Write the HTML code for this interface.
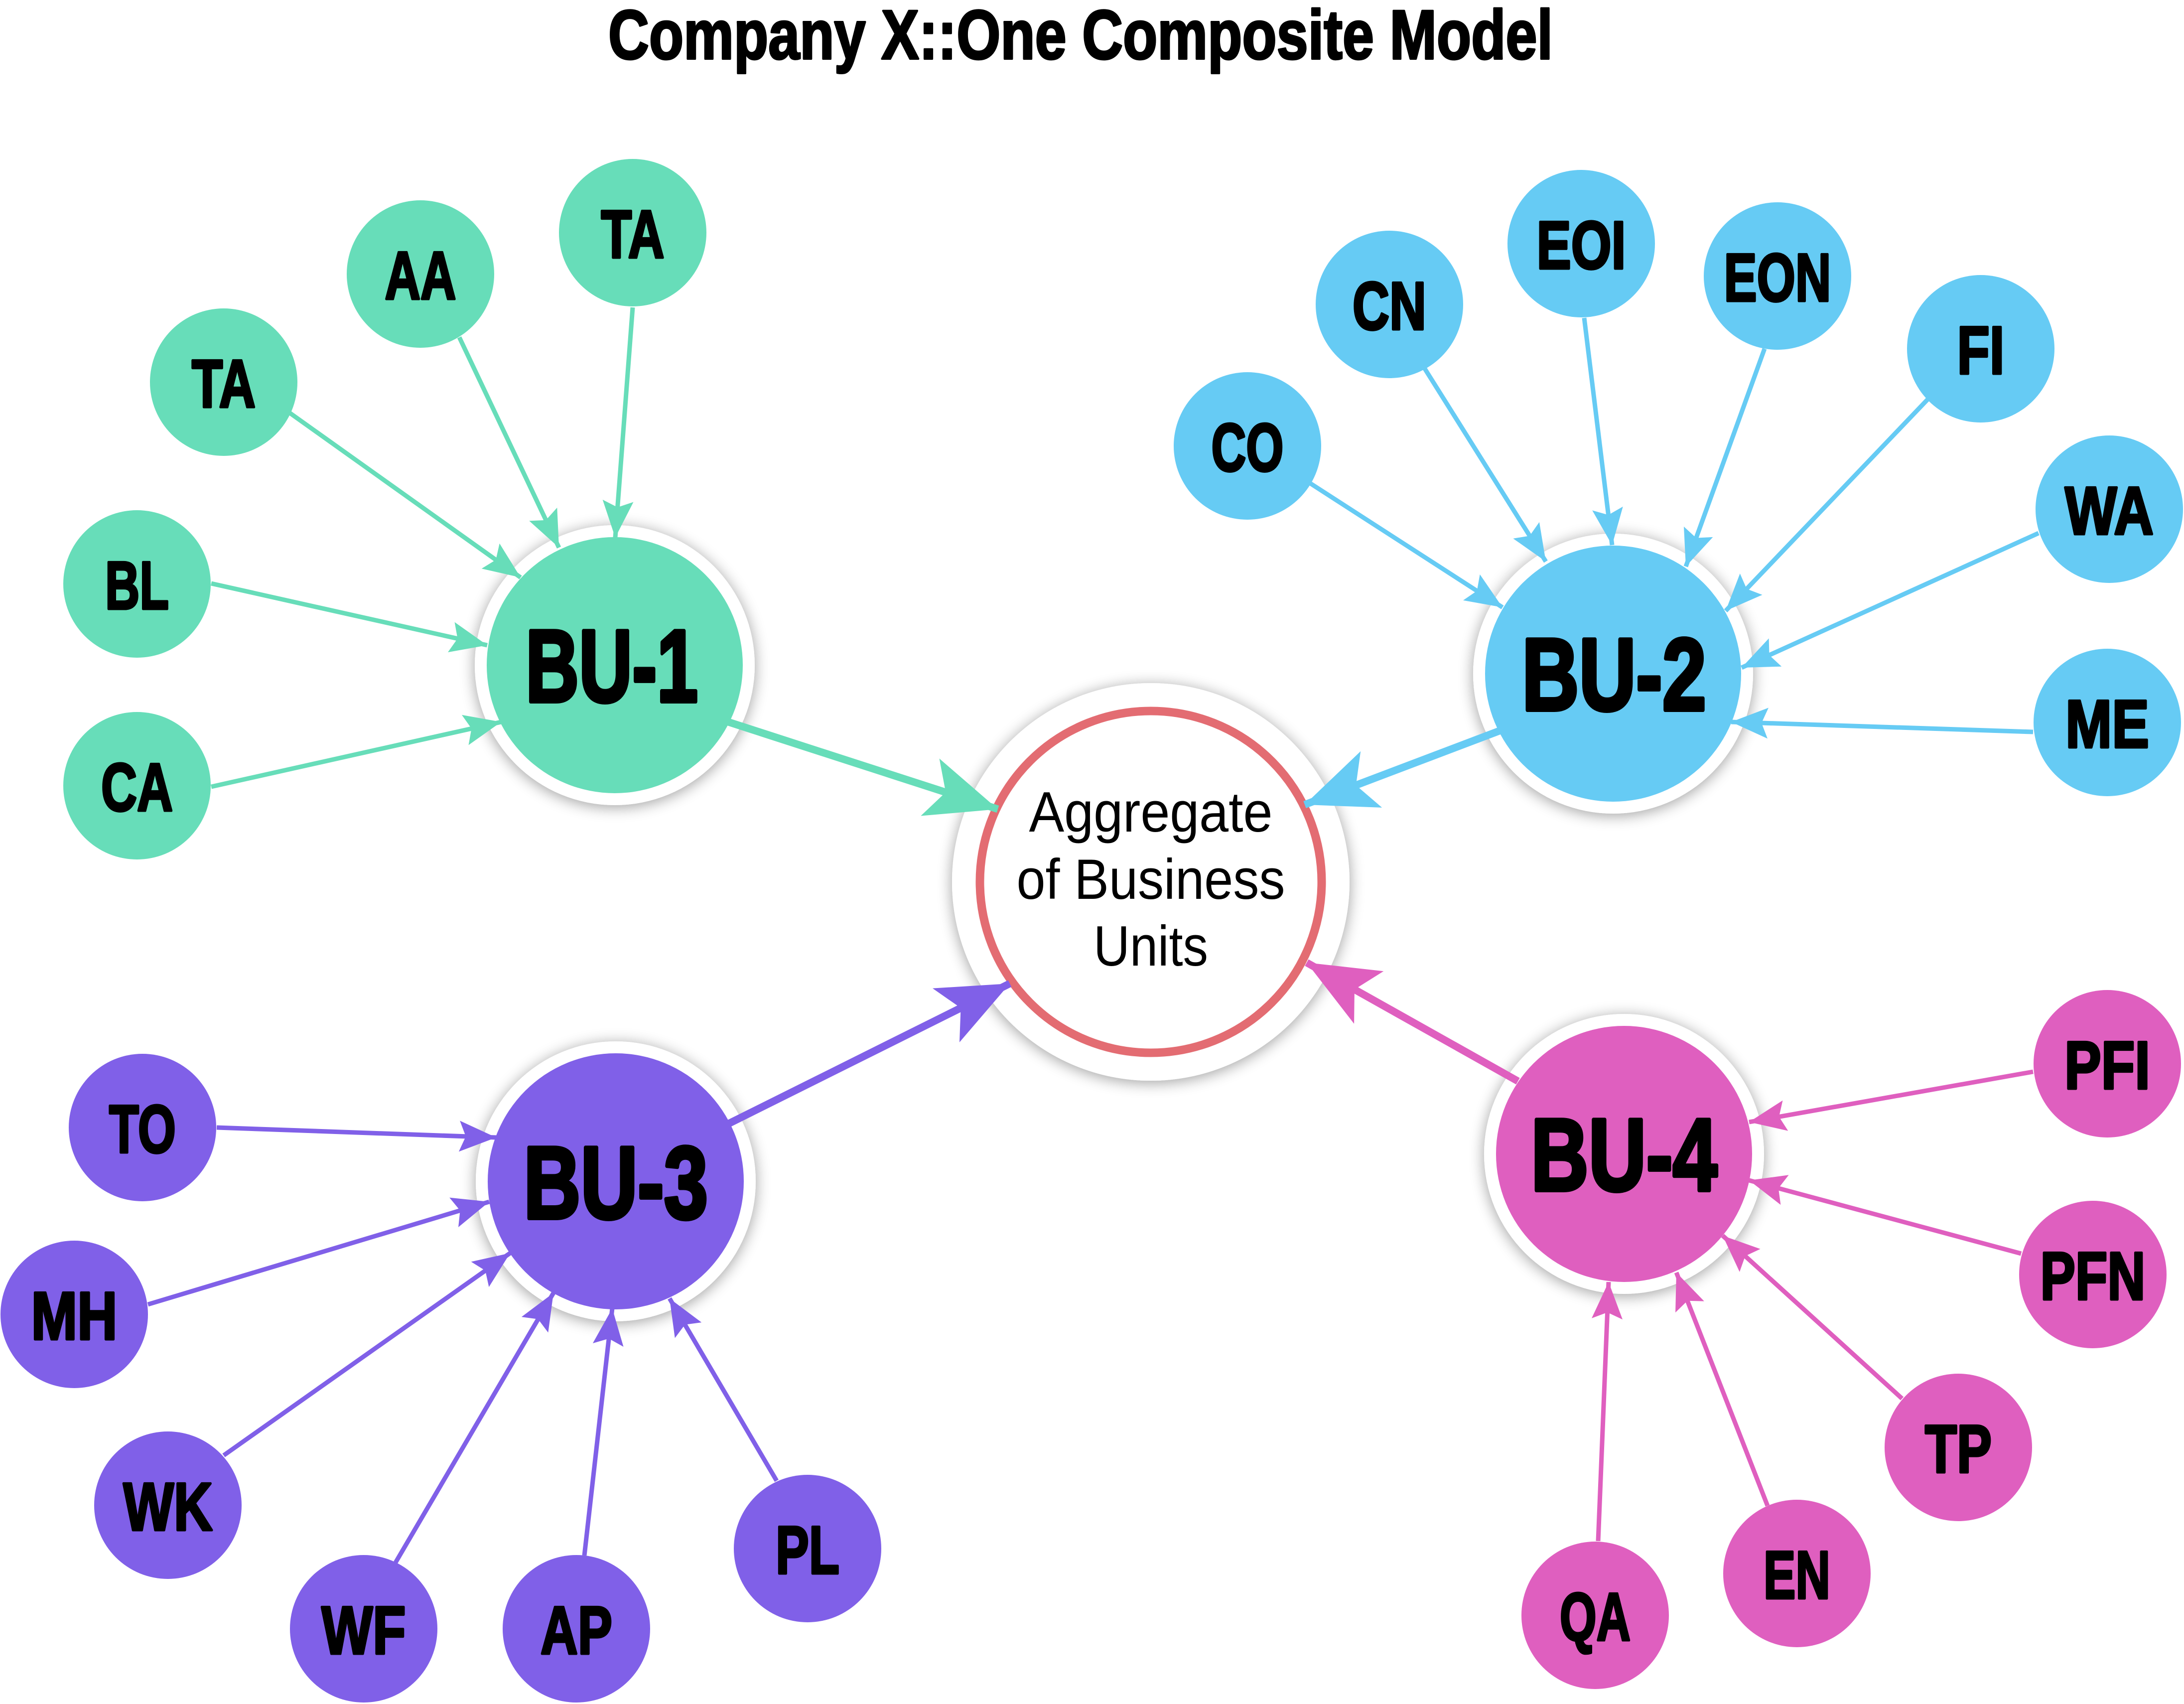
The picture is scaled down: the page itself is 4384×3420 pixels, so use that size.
<!DOCTYPE html>
<html>
<head>
<meta charset="utf-8">
<style>
  html, body { margin: 0; padding: 0; background: #ffffff; }
  svg { display: block; }
  .lbl { font-family: "Liberation Sans", Arial, sans-serif; font-weight: bold; fill: #000; stroke: #000; stroke-linejoin: round; }
  .ctr { font-family: "Liberation Sans", Arial, sans-serif; font-weight: normal; fill: #000; }
</style>
</head>
<body>
<svg xmlns="http://www.w3.org/2000/svg" width="4384" height="3420" viewBox="0 0 4384 3420">
  <defs>
    <filter id="sh" x="-30%" y="-30%" width="160%" height="160%">
      <feGaussianBlur in="SourceAlpha" stdDeviation="15"/>
      <feOffset dx="0" dy="4" result="b"/>
      <feComponentTransfer><feFuncA type="linear" slope="0.38"/></feComponentTransfer>
      <feMerge><feMergeNode/><feMergeNode in="SourceGraphic"/></feMerge>
    </filter>
    <marker id="gs" markerUnits="userSpaceOnUse" markerWidth="74" markerHeight="62" refX="74" refY="31" orient="auto" overflow="visible"><path d="M0,0 L74,31 L0,62 L13,31 Z" fill="#67DDB9"/></marker>
    <marker id="bs" markerUnits="userSpaceOnUse" markerWidth="74" markerHeight="62" refX="74" refY="31" orient="auto" overflow="visible"><path d="M0,0 L74,31 L0,62 L13,31 Z" fill="#66CBF4"/></marker>
    <marker id="ps" markerUnits="userSpaceOnUse" markerWidth="74" markerHeight="62" refX="74" refY="31" orient="auto" overflow="visible"><path d="M0,0 L74,31 L0,62 L13,31 Z" fill="#8060E8"/></marker>
    <marker id="ks" markerUnits="userSpaceOnUse" markerWidth="74" markerHeight="62" refX="74" refY="31" orient="auto" overflow="visible"><path d="M0,0 L74,31 L0,62 L13,31 Z" fill="#DF5FBF"/></marker>
    <marker id="gb" markerUnits="userSpaceOnUse" markerWidth="143" markerHeight="121" refX="143" refY="60.5" orient="auto" overflow="visible"><path d="M0,0 L143,60.5 L0,121 L33,60.5 Z" fill="#67DDB9"/></marker>
    <marker id="bb" markerUnits="userSpaceOnUse" markerWidth="143" markerHeight="121" refX="143" refY="60.5" orient="auto" overflow="visible"><path d="M0,0 L143,60.5 L0,121 L33,60.5 Z" fill="#66CBF4"/></marker>
    <marker id="pb" markerUnits="userSpaceOnUse" markerWidth="143" markerHeight="121" refX="143" refY="60.5" orient="auto" overflow="visible"><path d="M0,0 L143,60.5 L0,121 L33,60.5 Z" fill="#8060E8"/></marker>
    <marker id="kb" markerUnits="userSpaceOnUse" markerWidth="143" markerHeight="121" refX="143" refY="60.5" orient="auto" overflow="visible"><path d="M0,0 L143,60.5 L0,121 L33,60.5 Z" fill="#DF5FBF"/></marker>
  </defs>

  <rect x="0" y="0" width="4384" height="3420" fill="#ffffff"/>

  <!-- Title -->
  <text class="lbl" x="2169" y="118" font-size="140" stroke-width="4" text-anchor="middle" textLength="1896" lengthAdjust="spacingAndGlyphs">Company X::One Composite Model</text>

  <!-- Center node -->
  <circle cx="2310" cy="1770" r="399" fill="#ffffff" filter="url(#sh)"/>
  <circle cx="2310" cy="1770" r="343" fill="#ffffff" stroke="#E36C72" stroke-width="17"/>

  <!-- BU nodes -->
  <circle cx="1234" cy="1335" r="281" fill="#ffffff" filter="url(#sh)"/>
  <circle cx="1234" cy="1335" r="257" fill="#67DDB9"/>
  <circle cx="3238" cy="1352" r="281" fill="#ffffff" filter="url(#sh)"/>
  <circle cx="3238" cy="1352" r="257" fill="#66CBF4"/>
  <circle cx="1236" cy="2371" r="281" fill="#ffffff" filter="url(#sh)"/>
  <circle cx="1236" cy="2371" r="257" fill="#8060E8"/>
  <circle cx="3260" cy="2316" r="281" fill="#ffffff" filter="url(#sh)"/>
  <circle cx="3260" cy="2316" r="257" fill="#DF5FBF"/>

  <g fill="#67DDB9">
    <circle cx="1270" cy="467" r="148"/>
    <circle cx="844" cy="550" r="148"/>
    <circle cx="449" cy="767" r="148"/>
    <circle cx="275" cy="1172" r="148"/>
    <circle cx="275" cy="1577" r="148"/>
  </g>
  <g fill="#66CBF4">
    <circle cx="2504" cy="895" r="148"/>
    <circle cx="2789" cy="611" r="148"/>
    <circle cx="3174" cy="489" r="148"/>
    <circle cx="3568" cy="554" r="148"/>
    <circle cx="3976" cy="700" r="148"/>
    <circle cx="4234" cy="1022" r="148"/>
    <circle cx="4230" cy="1450" r="148"/>
  </g>
  <g fill="#8060E8">
    <circle cx="286" cy="2263" r="148"/>
    <circle cx="149" cy="2638" r="148"/>
    <circle cx="337" cy="3021" r="148"/>
    <circle cx="730" cy="3269" r="148"/>
    <circle cx="1157" cy="3269" r="148"/>
    <circle cx="1621" cy="3108" r="148"/>
  </g>
  <g fill="#DF5FBF">
    <circle cx="4230" cy="2135" r="148"/>
    <circle cx="4201" cy="2558" r="148"/>
    <circle cx="3931" cy="2905" r="148"/>
    <circle cx="3607" cy="3158" r="148"/>
    <circle cx="3202" cy="3242" r="148"/>
  </g>

  <g stroke="#67DDB9" stroke-width="9" fill="none">
    <line x1="1270" y1="617" x2="1235" y2="1079" marker-end="url(#gs)"/>
    <line x1="922" y1="677" x2="1122" y2="1099" marker-end="url(#gs)"/>
    <line x1="582" y1="829" x2="1045" y2="1159" marker-end="url(#gs)"/>
    <line x1="424" y1="1171" x2="978" y2="1295" marker-end="url(#gs)"/>
    <line x1="424" y1="1579" x2="1006" y2="1449" marker-end="url(#gs)"/>
    <line x1="1462" y1="1449" x2="2003" y2="1624" stroke-width="15" marker-end="url(#gb)"/>
  </g>
  <g stroke="#66CBF4" stroke-width="9" fill="none">
    <line x1="2630" y1="970" x2="3016" y2="1219" marker-end="url(#bs)"/>
    <line x1="2860" y1="740" x2="3103" y2="1127" marker-end="url(#bs)"/>
    <line x1="3180" y1="638" x2="3236" y2="1094" marker-end="url(#bs)"/>
    <line x1="3542" y1="700" x2="3384" y2="1137" marker-end="url(#bs)"/>
    <line x1="3870" y1="801" x2="3464" y2="1226" marker-end="url(#bs)"/>
    <line x1="4092" y1="1070" x2="3496" y2="1340" marker-end="url(#bs)"/>
    <line x1="4081" y1="1469" x2="3475" y2="1449" marker-end="url(#bs)"/>
    <line x1="3012" y1="1466" x2="2619" y2="1615" stroke-width="15" marker-end="url(#bb)"/>
  </g>
  <g stroke="#8060E8" stroke-width="9" fill="none">
    <line x1="435" y1="2263" x2="996" y2="2283" marker-end="url(#ps)"/>
    <line x1="297" y1="2618" x2="982" y2="2412" marker-end="url(#ps)"/>
    <line x1="449" y1="2921" x2="1024" y2="2515" marker-end="url(#ps)"/>
    <line x1="794" y1="3136" x2="1111" y2="2595" marker-end="url(#ps)"/>
    <line x1="1173" y1="3122" x2="1229" y2="2626" marker-end="url(#ps)"/>
    <line x1="1559" y1="2972" x2="1344" y2="2606" marker-end="url(#ps)"/>
    <line x1="1463" y1="2255" x2="2027" y2="1974" stroke-width="15" marker-end="url(#pb)"/>
  </g>
  <g stroke="#DF5FBF" stroke-width="9" fill="none">
    <line x1="4081" y1="2151" x2="3511" y2="2252" marker-end="url(#ks)"/>
    <line x1="4057" y1="2516" x2="3511" y2="2369" marker-end="url(#ks)"/>
    <line x1="3818" y1="2807" x2="3458" y2="2480" marker-end="url(#ks)"/>
    <line x1="3548" y1="3022" x2="3365" y2="2554" marker-end="url(#ks)"/>
    <line x1="3208" y1="3093" x2="3229" y2="2573" marker-end="url(#ks)"/>
    <line x1="3047" y1="2170" x2="2623" y2="1932" stroke-width="15" marker-end="url(#kb)"/>
  </g>

  <text class="ctr" x="2310" y="1669" font-size="114" text-anchor="middle" textLength="489" lengthAdjust="spacingAndGlyphs">Aggregate</text>
  <text class="ctr" x="2310" y="1804" font-size="114" text-anchor="middle" textLength="539" lengthAdjust="spacingAndGlyphs">of Business</text>
  <text class="ctr" x="2310" y="1938" font-size="114" text-anchor="middle" textLength="230" lengthAdjust="spacingAndGlyphs">Units</text>

  <g class="lbl" font-size="206" stroke-width="8" text-anchor="middle">
    <text x="1228" y="1408" textLength="346" lengthAdjust="spacingAndGlyphs">BU-1</text>
    <text x="3240" y="1425" textLength="370" lengthAdjust="spacingAndGlyphs">BU-2</text>
    <text x="1236" y="2445" textLength="370" lengthAdjust="spacingAndGlyphs">BU-3</text>
    <text x="3260" y="2389" textLength="374" lengthAdjust="spacingAndGlyphs">BU-4</text>
  </g>

  <g class="lbl" font-size="136" stroke-width="5" text-anchor="middle">
    <text x="1270" y="517" textLength="127" lengthAdjust="spacingAndGlyphs">TA</text>
    <text x="844" y="600" textLength="143" lengthAdjust="spacingAndGlyphs">AA</text>
    <text x="449" y="817" textLength="128" lengthAdjust="spacingAndGlyphs">TA</text>
    <text x="275" y="1222" textLength="128" lengthAdjust="spacingAndGlyphs">BL</text>
    <text x="275" y="1627" textLength="144" lengthAdjust="spacingAndGlyphs">CA</text>

    <text x="2504" y="945" textLength="145" lengthAdjust="spacingAndGlyphs">CO</text>
    <text x="2789" y="661" textLength="148" lengthAdjust="spacingAndGlyphs">CN</text>
    <text x="3174" y="539" textLength="179" lengthAdjust="spacingAndGlyphs">EOI</text>
    <text x="3568" y="604" textLength="215" lengthAdjust="spacingAndGlyphs">EON</text>
    <text x="3976" y="750" textLength="95" lengthAdjust="spacingAndGlyphs">FI</text>
    <text x="4234" y="1072" textLength="178" lengthAdjust="spacingAndGlyphs">WA</text>
    <text x="4230" y="1500" textLength="168" lengthAdjust="spacingAndGlyphs">ME</text>

    <text x="286" y="2313" textLength="134" lengthAdjust="spacingAndGlyphs">TO</text>
    <text x="149" y="2688" textLength="173" lengthAdjust="spacingAndGlyphs">MH</text>
    <text x="337" y="3071" textLength="179" lengthAdjust="spacingAndGlyphs">WK</text>
    <text x="730" y="3319" textLength="169" lengthAdjust="spacingAndGlyphs">WF</text>
    <text x="1157" y="3319" textLength="144" lengthAdjust="spacingAndGlyphs">AP</text>
    <text x="1621" y="3158" textLength="128" lengthAdjust="spacingAndGlyphs">PL</text>

    <text x="4230" y="2185" textLength="172" lengthAdjust="spacingAndGlyphs">PFI</text>
    <text x="4201" y="2608" textLength="211" lengthAdjust="spacingAndGlyphs">PFN</text>
    <text x="3931" y="2955" textLength="134" lengthAdjust="spacingAndGlyphs">TP</text>
    <text x="3607" y="3208" textLength="134" lengthAdjust="spacingAndGlyphs">EN</text>
    <text x="3202" y="3292" textLength="142" lengthAdjust="spacingAndGlyphs">QA</text>
  </g>
</svg>
</body>
</html>
